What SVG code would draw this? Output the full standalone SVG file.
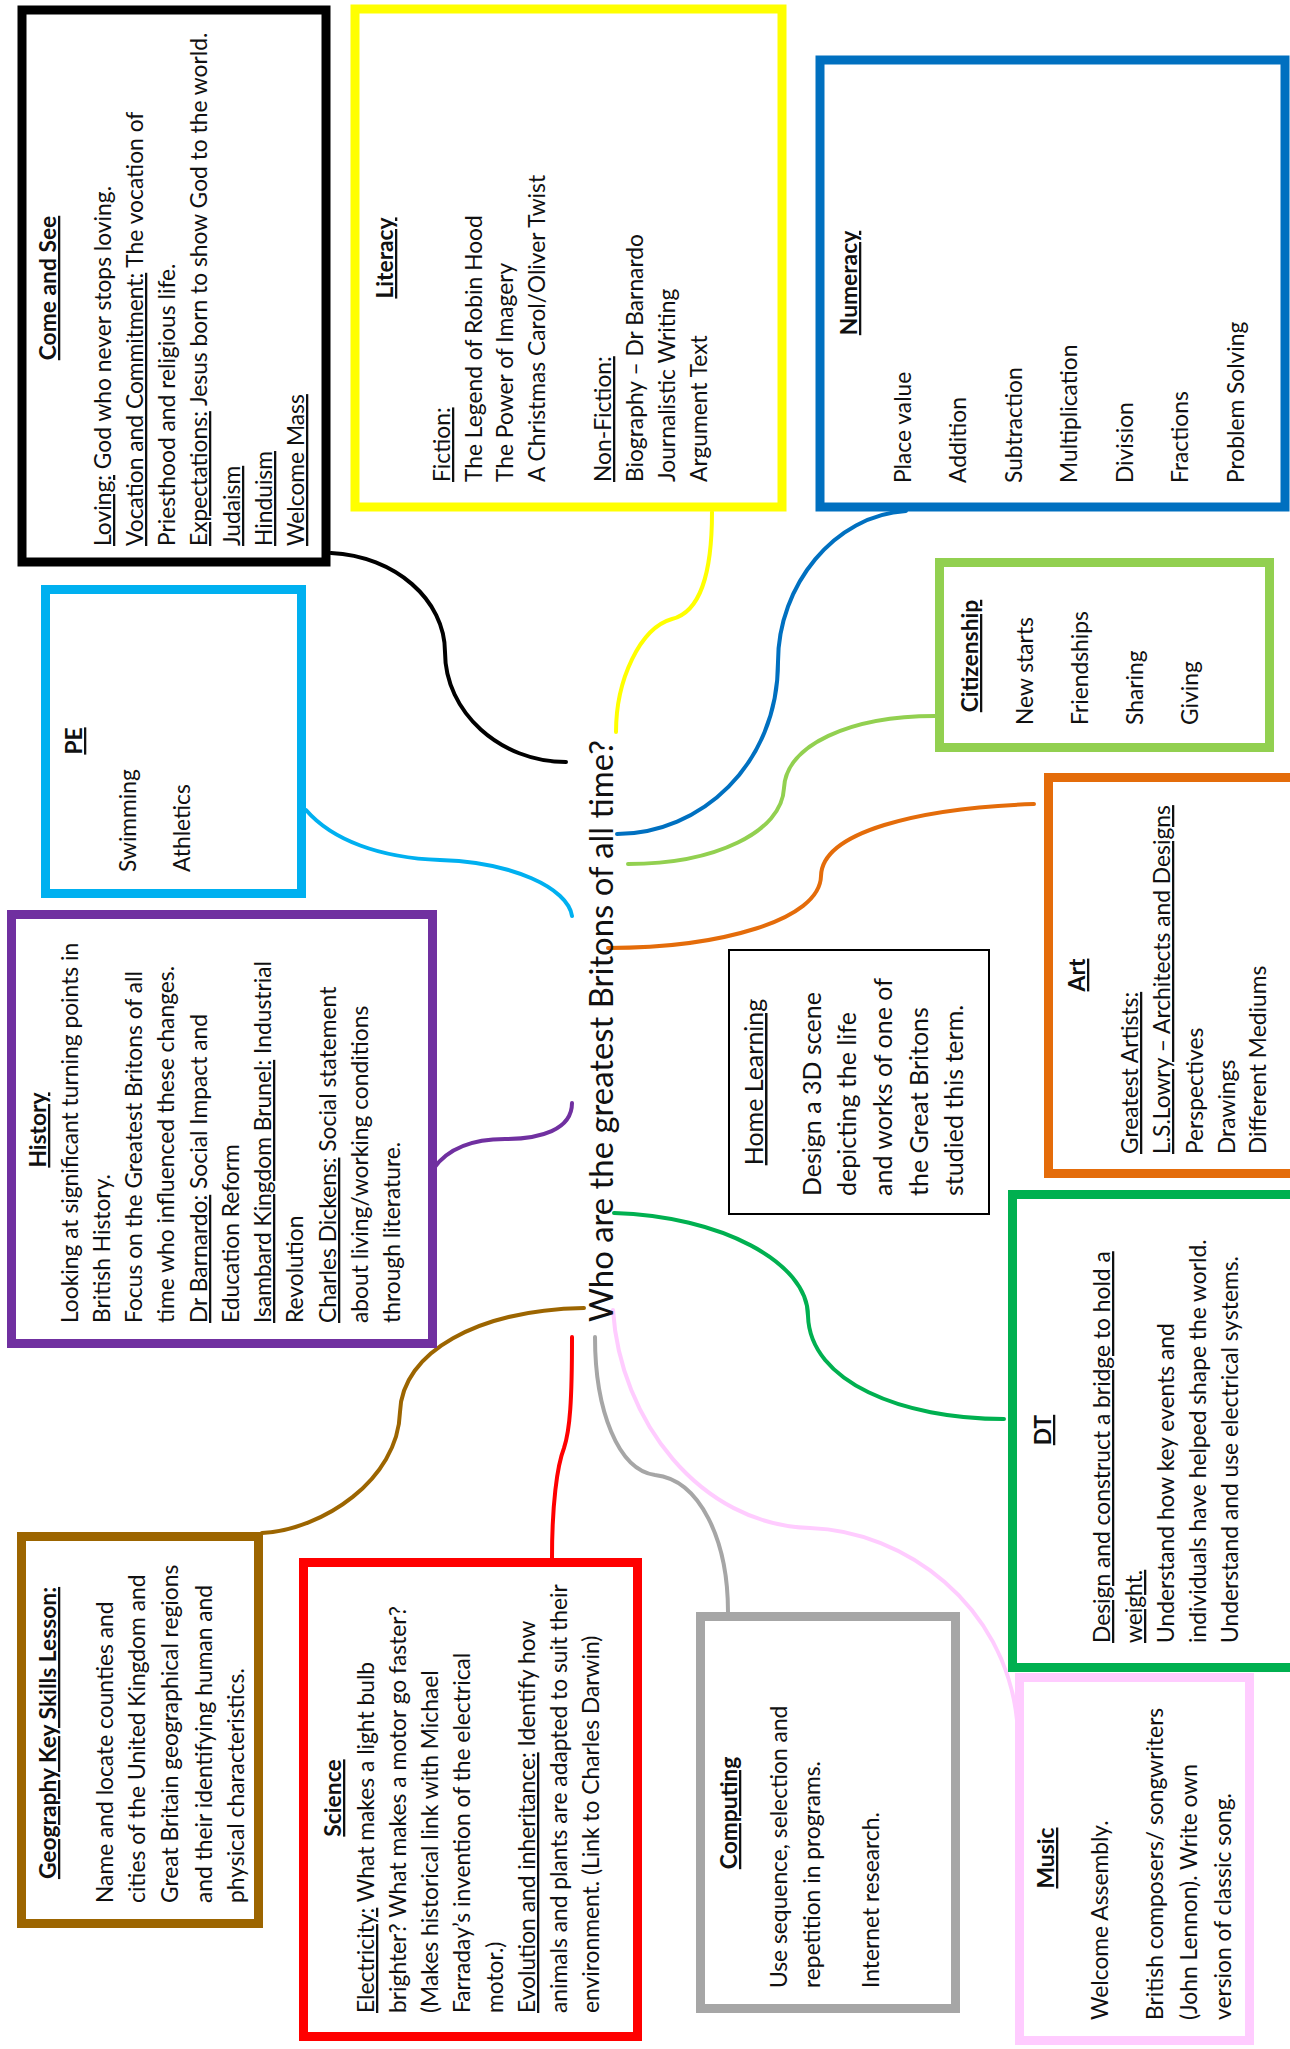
<svg xmlns="http://www.w3.org/2000/svg" width="1290" height="2049" viewBox="0 0 1290 2049">
<style>
.t{font-family:Lato,"Liberation Sans",sans-serif;font-size:22.8px;fill:#111}
.m{text-anchor:middle}
.h{font-weight:bold;text-decoration:underline}
.u{text-decoration:underline}
.box{fill:#fff;stroke-width:9}
.c{fill:none;stroke-width:4;stroke-linecap:round}
</style>
<rect width="1290" height="2049" fill="#fff"/>
<g id="connectors">
<path class="c" stroke="#000" stroke-width="5" d="M331,553 C395,556 445,600 445,652 C445,712 500,762 566,762"/>
<path class="c" stroke="#FFFF00" d="M712,512 C712,575 700,612 672,619 C640,628 616,680 616,732"/>
<path class="c" stroke="#0070C0" d="M906,511 C835,515 778,585 778,662 C778,765 700,834 617,834"/>
<path class="c" stroke="#92D050" d="M935,716 C850,716 786,745 784,788 C782,832 715,864 628,864"/>
<path class="c" stroke="#E46C0A" d="M1034,804 C918,808 822,832 821,876 C820,920 720,948 608,948"/>
<path class="c" stroke="#00B0F0" d="M306,810 C332,840 380,858 440,860 C512,862 568,888 572,916"/>
<path class="c" stroke="#7030A0" d="M434,1168 C450,1146 478,1139 505,1139 C540,1139 572,1130 572,1103"/>
<path class="c" stroke="#9C6500" d="M584,1308 C478,1310 402,1352 400,1412 C398,1480 322,1530 262,1533"/>
<path class="c" stroke="#FF0000" d="M572,1337 C572,1400 570,1430 564,1448 C557,1466 552,1505 552,1558"/>
<path class="c" stroke="#A6A6A6" d="M595,1337 C595,1410 618,1470 655,1475 C700,1480 728,1540 728,1612"/>
<path class="c" stroke="#FFCCFF" d="M613,1310 C620,1420 700,1525 810,1528 C905,1531 1005,1605 1017,1720"/>
<path class="c" stroke="#00B050" d="M614,1213 C720,1216 808,1262 808,1316 C810,1382 902,1419 1004,1419"/>
</g>
<g id="node-title">
<text class="t" style="font-size:32px" textLength="582" lengthAdjust="spacingAndGlyphs" transform="translate(613,1322) rotate(-90)">Who are the greatest Britons of all time?</text>
</g>
<g id="node-come-and-see">
<rect class="box" stroke="#000" stroke-width="10" x="22" y="10" width="304" height="552"/>
<text class="t m h" transform="translate(56,288) rotate(-90)">Come and See</text>
<text class="t" transform="translate(111,546) rotate(-90)"><tspan class="u">Loving:</tspan> God who never stops loving.</text>
<text class="t" transform="translate(143,546) rotate(-90)"><tspan class="u">Vocation and Commitment:</tspan> The vocation of</text>
<text class="t" transform="translate(175,546) rotate(-90)">Priesthood and religious life.</text>
<text class="t" transform="translate(207,546) rotate(-90)"><tspan class="u">Expectations:</tspan> Jesus born to show God to the world.</text>
<text class="t u" transform="translate(240,546) rotate(-90)">Judaism</text>
<text class="t u" transform="translate(272,546) rotate(-90)">Hinduism</text>
<text class="t u" transform="translate(304,546) rotate(-90)">Welcome Mass</text>
</g>
<g id="node-literacy">
<rect class="box" stroke="#FFFF00" stroke-width="10" x="355" y="9" width="427" height="498"/>
<text class="t m h" transform="translate(393,258) rotate(-90)">Literacy</text>
<text class="t u" transform="translate(450,482) rotate(-90)">Fiction:</text>
<text class="t" transform="translate(482,482) rotate(-90)">The Legend of Robin Hood</text>
<text class="t" transform="translate(513,482) rotate(-90)">The Power of Imagery</text>
<text class="t" transform="translate(545,482) rotate(-90)">A Christmas Carol/Oliver Twist</text>
<text class="t u" transform="translate(611,482) rotate(-90)">Non-Fiction:</text>
<text class="t" transform="translate(643,482) rotate(-90)">Biography – Dr Barnardo</text>
<text class="t" transform="translate(675,482) rotate(-90)">Journalistic Writing</text>
<text class="t" transform="translate(707,482) rotate(-90)">Argument Text</text>
</g>
<g id="node-numeracy">
<rect class="box" stroke="#0070C0" stroke-width="10" x="820" y="60" width="465" height="447"/>
<text class="t m h" transform="translate(857,283) rotate(-90)">Numeracy</text>
<text class="t" transform="translate(911,483) rotate(-90)">Place value</text>
<text class="t" transform="translate(966,483) rotate(-90)">Addition</text>
<text class="t" transform="translate(1022,483) rotate(-90)">Subtraction</text>
<text class="t" transform="translate(1077,483) rotate(-90)">Multiplication</text>
<text class="t" transform="translate(1133,483) rotate(-90)">Division</text>
<text class="t" transform="translate(1188,483) rotate(-90)">Fractions</text>
<text class="t" transform="translate(1244,483) rotate(-90)">Problem Solving</text>
</g>
<g id="node-pe">
<rect class="box" stroke="#00B0F0" x="45.5" y="589.5" width="256" height="304"/>
<text class="t m h" transform="translate(82,741) rotate(-90)">PE</text>
<text class="t" transform="translate(136,872) rotate(-90)">Swimming</text>
<text class="t" transform="translate(190,872) rotate(-90)">Athletics</text>
</g>
<g id="node-history">
<rect class="box" stroke="#7030A0" x="11.5" y="914.5" width="421" height="429"/>
<text class="t m h" transform="translate(46,1130) rotate(-90)">History</text>
<text class="t" transform="translate(78,1323) rotate(-90)">Looking at significant turning points in</text>
<text class="t" transform="translate(110,1323) rotate(-90)">British History.</text>
<text class="t" transform="translate(142,1323) rotate(-90)">Focus on the Greatest Britons of all</text>
<text class="t" transform="translate(174,1323) rotate(-90)">time who influenced these changes.</text>
<text class="t" transform="translate(207,1323) rotate(-90)"><tspan class="u">Dr Barnardo:</tspan> Social Impact and</text>
<text class="t" transform="translate(239,1323) rotate(-90)">Education Reform</text>
<text class="t" transform="translate(271,1323) rotate(-90)"><tspan class="u">Isambard Kingdom Brunel:</tspan> Industrial</text>
<text class="t" transform="translate(303,1323) rotate(-90)">Revolution</text>
<text class="t" transform="translate(336,1323) rotate(-90)"><tspan class="u">Charles Dickens:</tspan> Social statement</text>
<text class="t" transform="translate(368,1323) rotate(-90)">about living/working conditions</text>
<text class="t" transform="translate(400,1323) rotate(-90)">through literature.</text>
</g>
<g id="node-citizenship">
<rect class="box" stroke="#92D050" x="939.5" y="562.5" width="330" height="185"/>
<text class="t m h" transform="translate(978,656) rotate(-90)">Citizenship</text>
<text class="t" transform="translate(1033,725) rotate(-90)">New starts</text>
<text class="t" transform="translate(1088,725) rotate(-90)">Friendships</text>
<text class="t" transform="translate(1143,725) rotate(-90)">Sharing</text>
<text class="t" transform="translate(1198,725) rotate(-90)">Giving</text>
</g>
<g id="node-art">
<rect class="box" stroke="#E46C0A" x="1048.5" y="777.5" width="260" height="396"/>
<text class="t m h" transform="translate(1085,975) rotate(-90)">Art</text>
<text class="t u" transform="translate(1138,1154) rotate(-90)">Greatest Artists:</text>
<text class="t u" transform="translate(1170,1154) rotate(-90)">L.S.Lowry – Architects and Designs</text>
<text class="t" transform="translate(1203,1154) rotate(-90)">Perspectives</text>
<text class="t" transform="translate(1235,1154) rotate(-90)">Drawings</text>
<text class="t" transform="translate(1266,1154) rotate(-90)">Different Mediums</text>
</g>
<g id="node-home-learning">
<rect x="729" y="950" width="260" height="264" fill="#fff" stroke="#000" stroke-width="2"/>
<text class="t m u" style="font-size:25px" transform="translate(763,1082) rotate(-90)">Home Learning</text>
<text class="t" style="font-size:25px" transform="translate(821,1196) rotate(-90)">Design a 3D scene</text>
<text class="t" style="font-size:25px" transform="translate(856,1196) rotate(-90)">depicting the life</text>
<text class="t" style="font-size:25px" transform="translate(892,1196) rotate(-90)">and works of one of</text>
<text class="t" style="font-size:25px" transform="translate(928,1196) rotate(-90)">the Great Britons</text>
<text class="t" style="font-size:25px" transform="translate(963,1196) rotate(-90)">studied this term.</text>
</g>
<g id="node-dt">
<rect class="box" stroke="#00B050" x="1012.5" y="1194.5" width="290" height="473"/>
<text class="t m h" transform="translate(1051,1430) rotate(-90)">DT</text>
<text class="t u" transform="translate(1110,1643) rotate(-90)">Design and construct a bridge to hold a</text>
<text class="t u" transform="translate(1142,1643) rotate(-90)">weight.</text>
<text class="t" transform="translate(1174,1643) rotate(-90)">Understand how key events and</text>
<text class="t" transform="translate(1206,1643) rotate(-90)">individuals have helped shape the world.</text>
<text class="t" transform="translate(1238,1643) rotate(-90)">Understand and use electrical systems.</text>
</g>
<g id="node-music">
<rect class="box" stroke="#FFCCFF" x="1019.5" y="1677.5" width="230" height="363"/>
<text class="t m h" transform="translate(1054,1858) rotate(-90)">Music</text>
<text class="t" transform="translate(1108,2020) rotate(-90)">Welcome Assembly.</text>
<text class="t" transform="translate(1163,2020) rotate(-90)">British composers/ songwriters</text>
<text class="t" transform="translate(1197,2020) rotate(-90)">(John Lennon). Write own</text>
<text class="t" transform="translate(1231,2020) rotate(-90)">version of classic song.</text>
</g>
<g id="node-computing">
<rect class="box" stroke="#A6A6A6" x="700.5" y="1616.5" width="255" height="392"/>
<text class="t m h" transform="translate(737,1813) rotate(-90)">Computing</text>
<text class="t" transform="translate(787,1988) rotate(-90)">Use sequence, selection and</text>
<text class="t" transform="translate(820,1988) rotate(-90)">repetition in programs.</text>
<text class="t" transform="translate(879,1988) rotate(-90)">Internet research.</text>
</g>
<g id="node-science">
<rect class="box" stroke="#FF0000" x="303.5" y="1562.5" width="334" height="474"/>
<text class="t m h" transform="translate(341,1798) rotate(-90)">Science</text>
<text class="t" transform="translate(374,2013) rotate(-90)"><tspan class="u">Electricity:</tspan> What makes a light bulb</text>
<text class="t" transform="translate(406,2013) rotate(-90)">brighter? What makes a motor go faster?</text>
<text class="t" transform="translate(438,2013) rotate(-90)">(Makes historical link with Michael</text>
<text class="t" transform="translate(470,2013) rotate(-90)">Farraday’s invention of the electrical</text>
<text class="t" transform="translate(503,2013) rotate(-90)">motor.)</text>
<text class="t" transform="translate(535,2013) rotate(-90)"><tspan class="u">Evolution and inheritance:</tspan> Identify how</text>
<text class="t" transform="translate(567,2013) rotate(-90)">animals and plants are adapted to suit their</text>
<text class="t" transform="translate(599,2013) rotate(-90)">environment. (Link to Charles Darwin)</text>
</g>
<g id="node-geography">
<rect class="box" stroke="#9C6500" x="21.5" y="1536.5" width="237" height="387"/>
<text class="t m h" transform="translate(56,1733) rotate(-90)">Geography Key Skills Lesson:</text>
<text class="t" transform="translate(113,1903) rotate(-90)">Name and locate counties and</text>
<text class="t" transform="translate(145,1903) rotate(-90)">cities of the United Kingdom and</text>
<text class="t" transform="translate(178,1903) rotate(-90)">Great Britain geographical regions</text>
<text class="t" transform="translate(212,1903) rotate(-90)">and their identifying human and</text>
<text class="t" transform="translate(244,1903) rotate(-90)">physical characteristics.</text>
</g>
</svg>
